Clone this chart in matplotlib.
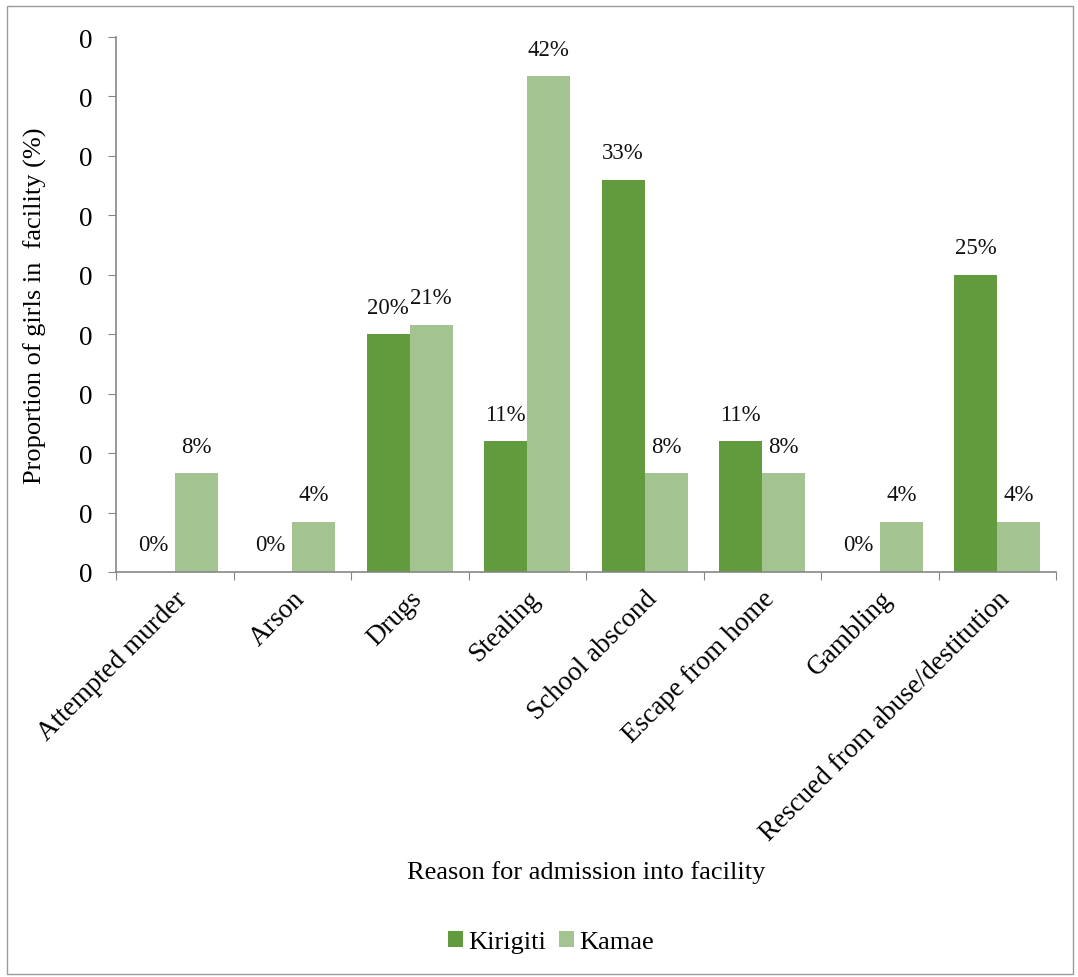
import matplotlib
matplotlib.use("Agg")
import matplotlib.pyplot as plt
import numpy as np
from matplotlib.patches import Rectangle

plt.rcParams['font.family'] = ['Liberation Serif', 'DejaVu Serif']

categories = ["Attempted murder", "Arson", "Drugs", "Stealing", "School abscond",
              "Escape from home", "Gambling", "Rescued from abuse/destitution"]
kirigiti = [0.0, 0.0, 0.20, 0.11, 0.33, 0.11, 0.0, 0.25]
kamae = [0.083, 0.042, 0.208, 0.417, 0.083, 0.083, 0.042, 0.042]
series_names = ["Kirigiti", "Kamae"]
yticks = [0.0, 0.05, 0.10, 0.15, 0.20, 0.25, 0.30, 0.35, 0.40, 0.45]

dark = "#629B3E"
light = "#A3C490"
axis_col = "#868686"

fig = plt.figure(figsize=(10.78, 9.78), dpi=100)
fig.patches.append(Rectangle((7/1078, 3/978), 1 - 12/1078, 1 - 10/978, transform=fig.transFigure,
                             fill=False, edgecolor="#9a9a9a", linewidth=1.0))

ax = fig.add_axes([116/1078, 1 - 573/978, (1056 - 116)/1078, (573 - 38)/978])
x = np.arange(len(categories))
w = 0.366
b1 = ax.bar(x - w/2, kirigiti, w, color=dark, label=series_names[0])
b2 = ax.bar(x + w/2, kamae, w, color=light, label=series_names[1])

for bars, vals in ((b1, kirigiti), (b2, kamae)):
    for r, v in zip(bars, vals):
        ax.text(r.get_x() + r.get_width()/2, v + 0.014, f"{v*100:.0f}%",
                ha="center", va="bottom", fontsize=16.5, color="#111111")

ax.set_xlim(-0.5, len(categories) - 0.5)
ax.set_ylim(0, 0.45)
ax.set_yticks(yticks)
ax.set_yticklabels(["0" for _ in yticks], fontsize=19.5)
ax.set_xticks(np.arange(len(categories) + 1) - 0.5, minor=False)
ax.set_xticklabels([])
ax.set_xticks(x, minor=True)
ax.set_xticklabels(categories, minor=True, rotation=45, ha="right", rotation_mode="anchor", fontsize=19.5)
ax.tick_params(axis="x", which="minor", length=0, pad=10)
ax.tick_params(axis="x", which="major", length=6, direction="out", color=axis_col)
ax.tick_params(axis="y", length=6, direction="out", color=axis_col, pad=11)
for s in ("top", "right"):
    ax.spines[s].set_visible(False)
for s in ("left", "bottom"):
    ax.spines[s].set_color(axis_col)
    ax.spines[s].set_linewidth(1.2)

ax.set_ylabel("Proportion of girls in  facility (%)", fontsize=19)
ax.yaxis.set_label_coords(-(116 - 47)/940, 0.5 + (573 - 38 - 2*(573 - 305))/535/2)
fig.text(586/1078, 1 - 873/978, "Reason for admission into facility", ha="center", va="center", fontsize=19)

fig.legend(handles=[b1, b2], labels=series_names, loc="center", bbox_to_anchor=(551/1078, 1 - 943/978),
           ncol=2, frameon=False, fontsize=19, handlelength=0.55, handleheight=0.55, handletextpad=0.2,
           columnspacing=0.5)

fig.savefig("out.png", dpi=100)
